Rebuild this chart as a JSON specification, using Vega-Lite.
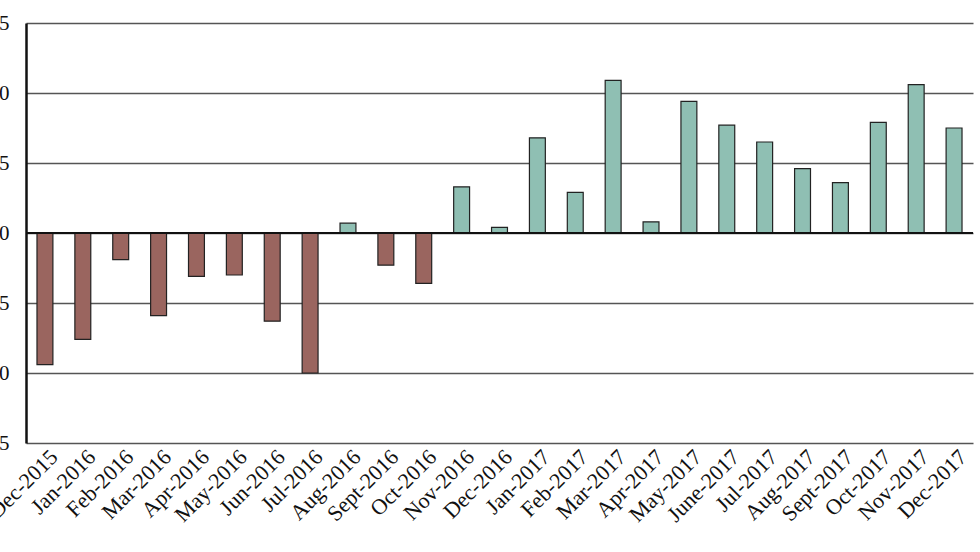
{
  "$schema": "https://vega.github.io/schema/vega-lite/v6.json",
  "width": 947,
  "height": 420,
  "autosize": {"type": "none"},
  "padding": {"left": 26, "top": 23, "right": 7, "bottom": 86},
  "background": "white",
  "config": {
    "view": {"stroke": null},
    "font": "Liberation Serif"
  },
  "data": {
    "values": [
      {"month": "Dec-2015", "value": -9.4},
      {"month": "Jan-2016", "value": -7.6},
      {"month": "Feb-2016", "value": -1.9},
      {"month": "Mar-2016", "value": -5.9},
      {"month": "Apr-2016", "value": -3.1},
      {"month": "May-2016", "value": -3.0},
      {"month": "Jun-2016", "value": -6.3},
      {"month": "Jul-2016", "value": -10.0},
      {"month": "Aug-2016", "value": 0.7},
      {"month": "Sept-2016", "value": -2.3},
      {"month": "Oct-2016", "value": -3.6},
      {"month": "Nov-2016", "value": 3.3},
      {"month": "Dec-2016", "value": 0.4},
      {"month": "Jan-2017", "value": 6.8},
      {"month": "Feb-2017", "value": 2.9},
      {"month": "Mar-2017", "value": 10.9},
      {"month": "Apr-2017", "value": 0.8},
      {"month": "May-2017", "value": 9.4},
      {"month": "June-2017", "value": 7.7},
      {"month": "Jul-2017", "value": 6.5},
      {"month": "Aug-2017", "value": 4.6},
      {"month": "Sept-2017", "value": 3.6},
      {"month": "Oct-2017", "value": 7.9},
      {"month": "Nov-2017", "value": 10.6},
      {"month": "Dec-2017", "value": 7.5}
    ]
  },
  "layer": [
    {
      "mark": {"type": "bar", "stroke": "#222222", "strokeWidth": 1.2},
      "encoding": {
        "x": {
          "field": "month",
          "type": "nominal",
          "sort": null,
          "scale": {"paddingInner": 0.58, "paddingOuter": 0.29},
          "axis": {
            "title": null,
            "domain": false,
            "ticks": false,
            "labelAngle": -45,
            "labelFont": "Liberation Serif",
            "labelFontSize": 22,
            "labelColor": "#111111",
            "labelPadding": 3,
            "labelOffset": 2
          }
        },
        "y": {
          "field": "value",
          "type": "quantitative",
          "scale": {"domain": [-15, 15], "nice": false},
          "axis": {
            "title": null,
            "values": [-15, -10, -5, 0, 5, 10, 15],
            "grid": true,
            "gridColor": "#555555",
            "gridWidth": 1.5,
            "gridOpacity": 1,
            "domain": true,
            "domainColor": "#111111",
            "domainWidth": 2.5,
            "ticks": false,
            "labelFont": "Liberation Serif",
            "labelFontSize": 21,
            "labelColor": "#111111",
            "labelPadding": 17
          }
        },
        "color": {
          "condition": {"test": "datum.value < 0", "value": "#9a655f"},
          "value": "#8fbfb3"
        }
      }
    },
    {
      "mark": {"type": "rule", "color": "#111111", "strokeWidth": 2.2},
      "encoding": {"y": {"datum": 0, "type": "quantitative"}}
    }
  ]
}
